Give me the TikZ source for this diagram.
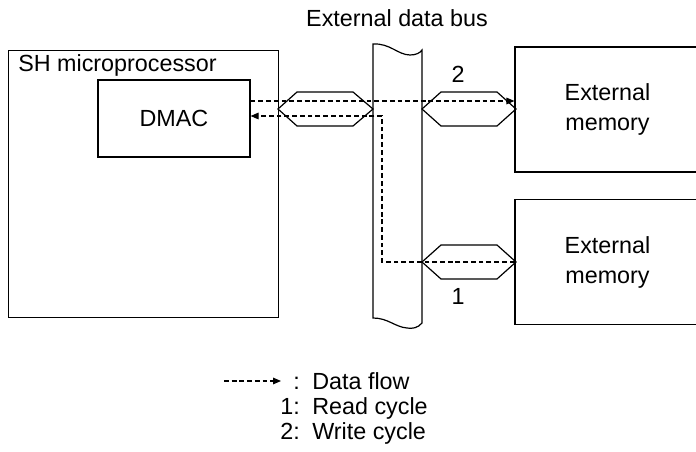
\documentclass[tikz,border=0pt]{standalone}
\usepackage{fontspec}
\setmainfont{Liberation Sans}
\usetikzlibrary{arrows.meta}
\begin{document}
\begin{tikzpicture}[x=0.75pt,y=-0.75pt,
  font=\fontsize{17.5pt}{22.5pt}\selectfont,
  box/.style={draw, line width=0.9pt, inner sep=0pt},
  sig/.style={draw, line width=0.9pt, line join=miter},
  flowline/.style={line width=0.8pt, dash pattern=on 3.6pt off 2.2pt},
  flow/.style={flowline, -{Triangle[length=6pt,width=5pt]}},
  lbl/.style={inner sep=0pt}]
\clip (0,0) rectangle (696,452);
\useasboundingbox (0,0) rectangle (696,452);

% blocks
\node[box, anchor=north west, minimum width=202.5pt, minimum height=200.25pt] (sh) at (8,50) {};
\node[lbl, anchor=base west] (shlabel) at (18,72) {SH microprocessor};
\node[box, minimum width=114pt, minimum height=57.75pt] (dmac) at (174,118.5) {DMAC};
\node[box, align=center, minimum width=138.75pt, minimum height=93.75pt] (mem1) at (607.5,109.5) {External\\memory};
\node[box, align=center, minimum width=138.75pt, minimum height=93.75pt] (mem2) at (607.5,262) {External\\memory};

% external data bus
\draw[sig] (373,44) .. controls (390,43) and (398,55) .. (410,55)
  .. controls (416,55) and (420,53) .. (422,50) -- (422,323)
  .. controls (418,328) and (412,329) .. (407,328)
  .. controls (395,327) and (388,318) .. (373,318) -- cycle;
\node[lbl, anchor=base] (buslabel) at (397,27) {External data bus};

% bus signal symbols
\draw[sig] (278,109) -- (297,92) -- (353,92) -- (373,109) -- (353,126) -- (297,126) -- cycle;
\draw[sig] (422,109) -- (441,92) -- (497,92) -- (516,109) -- (497,126) -- (441,126) -- cycle;
\draw[sig] (422,262) -- (441,245) -- (497,245) -- (516,262) -- (497,279) -- (441,279) -- cycle;

% data flows
\coordinate (wy) at (0,101);
\coordinate (ry) at (0,116);
\coordinate (turn) at (382,0);
\draw[flow] (dmac.east |- wy) -- (mem1.west |- wy);
\draw[flow] (mem2.west) -- (turn |- mem2.west) -- (turn |- ry) -- (dmac.east |- ry);
\node[lbl, anchor=base] (two) at (458,83) {2};
\node[lbl, anchor=base] (one) at (458,305) {1};

% legend
\coordinate (lgs) at (224,381);
\coordinate (lge) at (281,381);
\draw[flow] (lgs) -- (lge);
\node[lbl, anchor=base east] (c0) at (300,389) {:};
\node[lbl, anchor=base west] (t0) at (312,389) {Data flow};
\node[lbl, anchor=base east] (c1) at (300,414) {1:};
\node[lbl, anchor=base west] (t1) at (312,414) {Read cycle};
\node[lbl, anchor=base east] (c2) at (300,439) {2:};
\node[lbl, anchor=base west] (t2) at (312,439) {Write cycle};
\end{tikzpicture}
\end{document}
